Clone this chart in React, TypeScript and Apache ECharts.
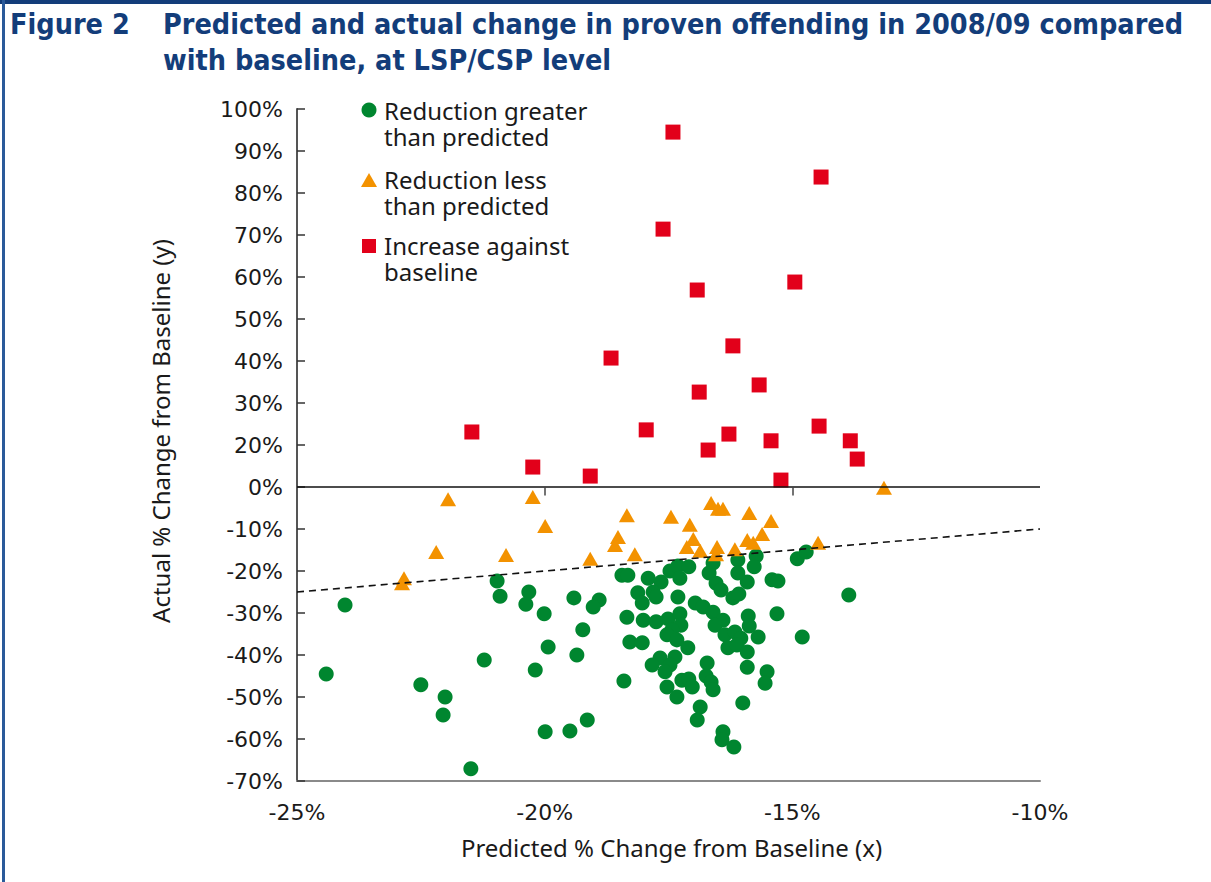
import React, { useEffect, useRef } from "react";
import * as echarts from "echarts";

// ---------- texts ----------
const figureLabel = "Figure 2";
const figureTitle =
  "Predicted and actual change in proven offending in 2008/09 compared\nwith baseline, at LSP/CSP level";
const xAxisName = "Predicted % Change from Baseline (x)";
const yAxisName = "Actual % Change from Baseline (y)";
const seriesNames = [
  "Reduction greater\nthan predicted",
  "Reduction less\nthan predicted",
  "Increase against\nbaseline",
];

// ---------- axis ticks ----------
// The printed y axis has evenly spaced labels but skips "10%".
const yTickLabels = [
  "-70%", "-60%", "-50%", "-40%", "-30%", "-20%", "-10%", "0%",
  "20%", "30%", "40%", "50%", "60%", "70%", "80%", "90%", "100%",
];
const xTickValues = [-25, -20, -15, -10];
const zeroLineTicks = [-20, -15];

// ---------- data: [predicted %, actual %] ----------
const greaterThanPredicted: number[][] = [
  [-24.03, -28.1], [-24.41, -44.5], [-22.5, -47.1], [-22.01, -50.0], [-22.05, -54.3],
  [-21.49, -67.1], [-20.96, -22.4], [-20.9, -26.0], [-21.22, -41.2], [-20.32, -25.0],
  [-20.38, -27.9], [-20.01, -30.2], [-19.93, -38.1], [-20.19, -43.6], [-19.99, -58.3],
  [-19.49, -58.1], [-19.14, -55.5], [-19.41, -26.4], [-18.9, -26.9], [-19.02, -28.6],
  [-19.23, -34.0], [-19.35, -40.0], [-18.4, -46.2], [-18.44, -21.0], [-18.32, -21.0],
  [-18.34, -31.0], [-18.28, -36.9], [-18.03, -37.1], [-17.91, -21.7], [-17.65, -22.6],
  [-17.47, -20.0], [-17.31, -18.8], [-17.09, -19.0], [-17.27, -21.7], [-16.68, -20.5],
  [-16.6, -18.1], [-18.12, -25.2], [-17.81, -25.0], [-17.75, -26.2], [-18.03, -27.6],
  [-17.31, -26.2], [-18.01, -31.7], [-17.75, -32.1], [-17.51, -31.4], [-17.27, -30.2],
  [-17.25, -32.9], [-16.96, -27.6], [-16.8, -28.6], [-17.43, -34.0], [-17.53, -35.2],
  [-17.33, -36.4], [-17.11, -38.3], [-17.67, -40.7], [-17.83, -42.4], [-17.37, -40.5],
  [-17.47, -42.4], [-17.57, -44.0], [-17.53, -47.6], [-17.23, -46.0], [-17.09, -45.7],
  [-17.02, -47.6], [-17.33, -50.0], [-16.72, -41.9], [-16.74, -45.0], [-16.64, -46.4],
  [-16.6, -48.3], [-16.86, -52.4], [-16.92, -55.5], [-15.73, -16.4], [-16.1, -17.4],
  [-15.77, -19.0], [-14.9, -17.1], [-14.72, -15.5], [-16.1, -20.5], [-15.91, -22.6],
  [-15.41, -22.1], [-15.29, -22.4], [-16.54, -22.9], [-16.44, -24.5], [-16.2, -26.4],
  [-16.08, -25.5], [-16.6, -29.8], [-16.4, -31.7], [-16.56, -32.9], [-15.89, -30.7],
  [-15.87, -33.1], [-15.31, -30.2], [-16.36, -35.2], [-16.16, -34.5], [-16.04, -36.0],
  [-16.3, -38.3], [-16.12, -37.6], [-15.91, -39.3], [-15.69, -35.7], [-14.8, -35.7],
  [-13.86, -25.7], [-15.91, -42.9], [-15.51, -44.0], [-15.55, -46.7], [-16.0, -51.4],
  [-16.4, -58.3], [-16.42, -60.2], [-16.18, -61.9],
];

const lessThanPredicted: number[][] = [
  [-21.95, -2.9], [-20.24, -2.4], [-19.99, -9.3], [-22.19, -15.5], [-20.78, -16.2],
  [-22.84, -21.7], [-22.88, -22.9], [-19.08, -17.1], [-18.52, -11.9], [-18.58, -13.8],
  [-18.34, -6.7], [-18.18, -16.0], [-17.45, -7.1], [-17.07, -9.0], [-16.64, -3.8],
  [-16.5, -5.2], [-16.4, -5.2], [-15.87, -6.2], [-15.43, -8.1], [-17.0, -12.4],
  [-17.13, -14.3], [-16.86, -15.2], [-16.52, -14.3], [-16.54, -16.0], [-16.16, -14.8],
  [-15.91, -12.6], [-15.79, -13.3], [-15.61, -11.2], [-14.48, -13.3], [-13.15, -0.2],
];

const increaseAgainstBaseline: number[][] = [
  [-17.41, 94.5], [-14.42, 83.8], [-17.61, 71.4], [-16.92, 56.9], [-14.95, 58.8],
  [-18.66, 40.7], [-16.2, 43.6], [-15.67, 34.3], [-16.88, 32.6], [-21.47, 23.1],
  [-17.95, 23.6], [-16.28, 22.6], [-14.46, 24.5], [-15.43, 21.0], [-13.83, 21.0],
  [-13.69, 13.3], [-16.7, 17.6], [-20.24, 9.5], [-19.08, 5.2], [-15.23, 3.3],
];

// predicted = actual reference line
const parityLine: number[][] = [[-25, -25], [-10, -10]];

// ---------- styling ----------
const NAVY = "#133d7a";
const GREEN = "#00862f";
const ORANGE = "#f39200";
const RED = "#e2001a";
const TEXT = "#1a1a1a";
const BODY_FONT = "Noto Sans";
const TICK_FONT = "DejaVu Sans";
const TITLE_FONT = "DejaVu Sans Condensed";

// The printed axis runs -70..0 then 20..100 with even spacing, so the
// 0..20 band is compressed into one step. Map label values to the axis.
const toAxis = (v: number) => (v <= 0 ? v : v < 20 ? v / 2 : v - 10);
const mapPts = (pts: number[][]) => pts.map(([x, y]) => [x, toAxis(y)]);

export default function App() {
  const ref = useRef<HTMLDivElement>(null);

  useEffect(() => {
    if (!ref.current) return;
    const chart = echarts.init(ref.current, undefined, { renderer: "svg" });

    const legendFont = `24px "${BODY_FONT}"`;
    const legendText = (text: string, y: number) => ({
      type: "text",
      x: 384,
      y,
      silent: true,
      style: { text, font: legendFont, fill: TEXT, lineHeight: 26, verticalAlign: "top", align: "left" },
    });

    chart.setOption({
      animation: false,
      backgroundColor: "#ffffff",
      title: [
        {
          text: figureLabel,
          left: 10,
          top: 6,
          padding: 0,
          textStyle: { fontFamily: TITLE_FONT, fontWeight: "bold", fontSize: 28.5, color: NAVY, lineHeight: 36 },
        },
        {
          text: figureTitle,
          left: 163,
          top: 6,
          padding: 0,
          textStyle: { fontFamily: TITLE_FONT, fontWeight: "bold", fontSize: 28.5, color: NAVY, lineHeight: 36 },
        },
      ],
      graphic: [
        { type: "rect", shape: { x: 0, y: 0, width: 1211, height: 4 }, style: { fill: NAVY }, silent: true },
        { type: "rect", shape: { x: 2, y: 0, width: 3, height: 882 }, style: { fill: "#2a5a9a" }, silent: true },
        // legend
        { type: "circle", shape: { cx: 369, cy: 110, r: 7.5 }, style: { fill: GREEN }, silent: true },
        legendText(seriesNames[0], 97),
        { type: "polygon", shape: { points: [[361, 187], [377, 187], [369, 173]] }, style: { fill: ORANGE }, silent: true },
        legendText(seriesNames[1], 166),
        { type: "rect", shape: { x: 362, y: 239, width: 14, height: 14 }, style: { fill: RED }, silent: true },
        legendText(seriesNames[2], 232),
        // y axis title
        {
          type: "text",
          x: 160,
          y: 431,
          rotation: Math.PI / 2,
          silent: true,
          style: { text: yAxisName, font: legendFont, fill: TEXT, align: "center", verticalAlign: "middle" },
        },
      ],
      grid: { left: 297, top: 109, width: 743, height: 672, containLabel: false },
      xAxis: {
        type: "value",
        min: xTickValues[0],
        max: xTickValues[xTickValues.length - 1],
        interval: 5,
        splitLine: { show: false },
        axisLine: { onZero: false, lineStyle: { color: "#8a8a8a", width: 2 } },
        axisTick: { show: false },
        axisLabel: {
          margin: 20,
          fontFamily: TICK_FONT,
          fontSize: 22,
          color: TEXT,
          formatter: (v: number) => `${v}%`,
        },
        name: xAxisName,
        nameLocation: "middle",
        nameGap: 54,
        nameTextStyle: { fontFamily: BODY_FONT, fontSize: 24, color: TEXT, padding: [0, 0, 0, 6] },
      },
      yAxis: {
        type: "value",
        min: -70,
        max: 90,
        interval: 10,
        splitLine: { show: false },
        axisLine: { show: true, lineStyle: { color: "#555555", width: 2 } },
        axisTick: { show: true, inside: true, length: 8, lineStyle: { color: "#333333", width: 1.5 } },
        axisLabel: {
          margin: 14,
          fontFamily: TICK_FONT,
          fontSize: 22,
          color: TEXT,
          formatter: (v: number) => yTickLabels[Math.round((v + 70) / 10)] ?? "",
        },
      },
      series: [
        {
          name: seriesNames[0],
          type: "scatter",
          symbol: "circle",
          symbolSize: 15,
          itemStyle: { color: GREEN, opacity: 1 },
          data: mapPts(greaterThanPredicted),
          z: 2,
        },
        {
          name: seriesNames[1],
          type: "scatter",
          symbol: "triangle",
          symbolSize: [16, 14],
          itemStyle: { color: ORANGE, opacity: 1 },
          data: mapPts(lessThanPredicted),
          z: 3,
        },
        {
          name: seriesNames[2],
          type: "scatter",
          symbol: "rect",
          symbolSize: 15,
          itemStyle: { color: RED, opacity: 1 },
          data: mapPts(increaseAgainstBaseline),
          z: 4,
        },
        {
          name: "parity",
          type: "line",
          data: mapPts(parityLine),
          symbol: "none",
          silent: true,
          lineStyle: { color: "#111111", width: 1.6, type: [7, 5] },
          z: 5,
          markLine: {
            silent: true,
            symbol: ["none", "none"],
            label: { show: false },
            lineStyle: { color: "#111111", width: 1.6, type: "solid" },
            data: [
              { yAxis: 0 },
              ...zeroLineTicks.map((t) => [
                { coord: [t, 0], lineStyle: { color: "#444444", width: 1.5 } },
                { coord: [t, -2] },
              ]),
            ],
          },
        },
      ],
    });

    return () => chart.dispose();
  }, []);

  return (
    <div
      ref={ref}
      style={{ position: "absolute", left: 0, top: 0, width: 1211, height: 882, background: "#fff" }}
    />
  );
}
